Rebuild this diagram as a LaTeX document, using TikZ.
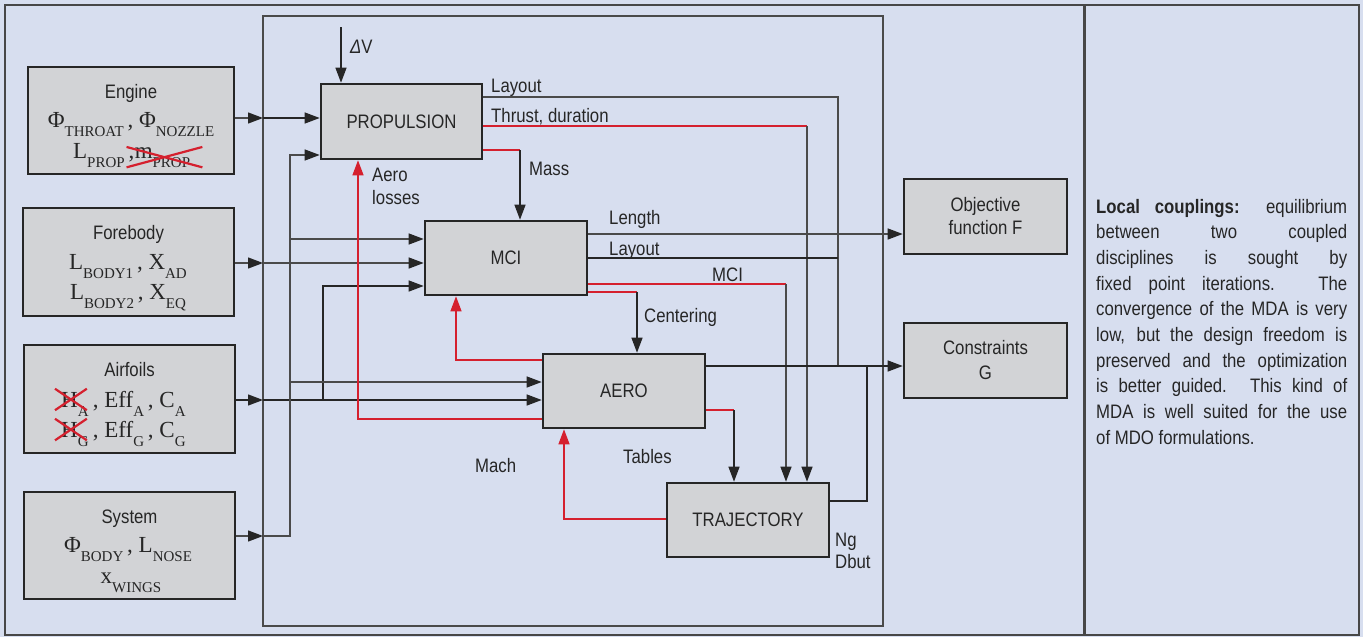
\documentclass[tikz,border=0pt]{standalone}
\usepackage{fontspec}
\setmainfont[FakeStretch=0.86]{Liberation Sans}
\newfontfamily\tms{Liberation Serif}
\usetikzlibrary{arrows.meta}
\definecolor{bg}{HTML}{D7DEEF}
\definecolor{boxfill}{HTML}{D2D3D6}
\definecolor{edge}{HTML}{262626}
\definecolor{ln}{HTML}{4A4A4A}
\definecolor{rd}{HTML}{D5202E}
\definecolor{txt}{HTML}{262626}
\newcommand\vs[2]{#1\raisebox{-9pt}{\fontsize{15}{15}\selectfont #2}}
\begin{document}
\begin{tikzpicture}[x=1pt,y=-1pt,
  every node/.style={font=\fontsize{19.5}{25.7}\selectfont, text=txt},
  box/.style={draw=edge, fill=boxfill, line width=2.6pt, inner sep=0pt},
  frm/.style={draw=ln, line width=1.4pt},
  wire/.style={draw=ln, line width=1.3pt},
  bwire/.style={draw=edge, line width=1.3pt},
  rwire/.style={draw=rd, line width=1.3pt},
  tip/.style={-{Triangle[length=15pt,width=11pt,color=edge]}},
  rtip/.style={-{Triangle[length=15pt,width=11pt,color=rd]}},
  lbl/.style={anchor=base west, inner sep=0pt},
  fml/.style={font=\tms\fontsize{23}{23}\selectfont, inner sep=0pt},
  xout/.style={draw=rd, line width=2.2pt}
]
\fill[bg] (0,0) rectangle (1363,637);
\useasboundingbox (0,0) rectangle (1363,637);
% frames
\draw[draw=edge!85, line width=2.5pt] (5,5) rectangle (1359,635);
\draw[draw=edge!85, line width=3pt] (1084,5) -- (1084,635);
\draw[frm] (263,16) rectangle (883,626);

% boxes
\node[box, minimum width=206pt, minimum height=107pt] (engine) at (131,120.5) {};
\node[box, minimum width=211pt, minimum height=108pt] (forebody) at (128.5,262) {};
\node[box, minimum width=211pt, minimum height=108pt] (airfoils) at (129.5,399) {};
\node[box, minimum width=211pt, minimum height=107pt] (system) at (129.5,545.5) {};
\node[box, minimum width=161pt, minimum height=75pt] (prop) at (401.5,121.5) {PROPULSION};
\node[box, minimum width=162pt, minimum height=74pt] (mci) at (506,258) {MCI};
\node[box, minimum width=162pt, minimum height=74pt] (aero) at (624,391) {AERO};
\node[box, minimum width=162pt, minimum height=74pt] (traj) at (748,520) {TRAJECTORY};
\node[box, minimum width=163pt, minimum height=75pt, align=center, font=\fontsize{19.5}{23}\selectfont] (objf) at (985.5,216.5) {Objective\\function F};
\node[box, minimum width=163pt, minimum height=75pt, align=center, font=\fontsize{19.5}{25}\selectfont] (cons) at (985.5,360.5) {Constraints\\G};

% left box contents
\node[anchor=base, inner sep=0pt] (tEng) at (131,98) {Engine};
\node[fml, anchor=base] (eng1) at (131,127) {\vs{Φ}{THROAT}\,,\ \vs{Φ}{NOZZLE}};
\node[fml, anchor=base west] (lprop) at (73,158) {\vs{L}{PROP}\,,};
\node[fml, anchor=base west] (mprop) at (lprop.base east) {\vs{m}{PROP}};
\draw[xout] ([xshift=-8pt]mprop.north west) -- ([xshift=12pt]mprop.south east);
\draw[xout] ([xshift=-8pt]mprop.south west) -- ([xshift=12pt]mprop.north east);

\node[anchor=base, inner sep=0pt] (tFore) at (128.5,239) {Forebody};
\node[fml, anchor=base] (fb1) at (128,269) {\vs{L}{BODY1}\,,\ \vs{X}{AD}};
\node[fml, anchor=base] (fb2) at (128,299) {\vs{L}{BODY2}\,,\ \vs{X}{EQ}};

\node[anchor=base, inner sep=0pt] (tAir) at (129.5,376) {Airfoils};
\node[fml, anchor=base west] (hA) at (61,407) {\vs{H}{A}};
\node[fml, anchor=base west] (af1) at (hA.base east) {\,,\ \vs{Eff}{A}\,,\ \vs{C}{A}};
\node[fml, anchor=base west] (hG) at (61,437) {\vs{H}{G}};
\node[fml, anchor=base west] (af2) at (hG.base east) {\,,\ \vs{Eff}{G}\,,\ \vs{C}{G}};
\draw[xout] ([xshift=-6pt,yshift=3pt]hA.north west) -- ([xshift=-2pt,yshift=6pt]hA.south east);
\draw[xout] ([xshift=-6pt,yshift=6pt]hA.south west) -- ([xshift=-2pt,yshift=3pt]hA.north east);
\draw[xout] ([xshift=-6pt,yshift=3pt]hG.north west) -- ([xshift=-2pt,yshift=6pt]hG.south east);
\draw[xout] ([xshift=-6pt,yshift=6pt]hG.south west) -- ([xshift=-2pt,yshift=3pt]hG.north east);

\node[anchor=base, inner sep=0pt] (tSys) at (129.5,523) {System};
\node[fml, anchor=base] (sy1) at (128,552) {\vs{Φ}{BODY}\,,\ \vs{L}{NOSE}};
\node[fml, anchor=base] (sy2) at (131,583) {\vs{x}{WINGS}};

% coordinates
\coordinate (fE) at (263,118);
\coordinate (fF) at (263,263);
\coordinate (fA) at (263,400);
\coordinate (fS) at (263,536);
\coordinate (jA) at (323,400);
\coordinate (yA) at (0,286);
\coordinate (jS) at (290,536);
\coordinate (s1) at (290,155);
\coordinate (s2) at (290,239);
\coordinate (s3) at (290,382);
\coordinate (r1) at (358,419);
\coordinate (r2) at (456,360);
\coordinate (r3) at (564,519);
\coordinate (m1) at (520,150);
\coordinate (l1) at (838,97);
\coordinate (l2) at (838,366);
\coordinate (t1) at (807,126);
\coordinate (len) at (600,234);
\coordinate (lay2) at (838,258);
\coordinate (c1) at (786,284);
\coordinate (ce) at (637,292);
\coordinate (ao) at (720,366);
\coordinate (tb) at (734,410);
\coordinate (to) at (867,501);
\coordinate (to2) at (867,366);
\coordinate (dv) at (341,27);

% inputs
\draw[wire,tip] (engine.east |- fE) -- (fE);
\draw[bwire,tip] (fE) -- (prop.west |- fE);
\draw[wire,tip] (forebody.east |- fF) -- (fF);
\draw[wire,tip] (fF) -- (mci.west |- fF);
\draw[bwire,tip] (airfoils.east |- fA) -- (fA);
\draw[bwire,tip] (fA) -- (aero.west |- fA);
\draw[bwire,tip] (jA) |- (mci.west |- yA);
\draw[wire,tip] (system.east |- fS) -- (fS);
\draw[wire,tip] (fS) -- (jS) -- (s1) -- (prop.west |- s1);
\draw[wire,tip] (s2) -- (mci.west |- s2);
\draw[wire,tip] (s3) -- (aero.west |- s3);
\draw[bwire,tip] (dv) -- (dv |- prop.north);

% red feedback
\draw[rwire,rtip] (aero.west |- r1) -- (r1) -- (r1 |- prop.south);
\draw[rwire,rtip] (aero.west |- r2) -- (r2) -- (r2 |- mci.south);
\draw[rwire,rtip] (traj.west |- r3) -- (r3) -- (r3 |- aero.south);

% propulsion outputs
\draw[rwire] (prop.east |- m1) -- (m1);
\draw[bwire,tip] (m1) -- (m1 |- mci.north);
\draw[wire] (prop.east |- l1) -- (l1) -- (l2);
\draw[rwire] (prop.east |- t1) -- (t1);
\draw[wire,tip] (t1) -- (t1 |- traj.north);

% MCI outputs
\draw[wire,tip] (mci.east |- len) -- (objf.west |- len);
\draw[bwire] (mci.east |- lay2) -- (lay2);
\draw[rwire] (mci.east |- c1) -- (c1);
\draw[wire,tip] (c1) -- (c1 |- traj.north);
\draw[rwire] (mci.east |- ce) -- (ce);
\draw[bwire,tip] (ce) -- (ce |- aero.north);

% AERO outputs
\draw[bwire,tip] (aero.east |- ao) -- (cons.west |- ao);
\draw[rwire] (aero.east |- tb) -- (tb);
\draw[bwire,tip] (tb) -- (tb |- traj.north);

% TRAJECTORY output
\draw[bwire] (traj.east |- to) -- (to) -- (to2);

% labels
\node[lbl] (dV) at (350,53) {\textit{Δ}V};
\node[lbl] (lLay1) at (491,92) {Layout};
\node[lbl] (lThr) at (491,122) {Thrust, duration};
\node[lbl] (lMass) at (529,175) {Mass};
\node[lbl] (lAero) at (372,181) {Aero};
\node[lbl] (lLoss) at (372,204) {losses};
\node[lbl] (lLen) at (609,224) {Length};
\node[lbl] (lLay2) at (609,255) {Layout};
\node[lbl] (lMCI) at (712,281) {MCI};
\node[lbl] (lCen) at (644,322) {Centering};
\node[lbl] (lTab) at (623,463) {Tables};
\node[lbl] (lMach) at (475,472) {Mach};
\node[lbl] (lNg) at (835,546) {Ng};
\node[lbl] (lDbut) at (835,568) {Dbut};

% paragraph
\node[anchor=base west, inner sep=0pt] (para) at (1096,213) {\parbox[t]{251pt}{\fontsize{19.5}{25.7}\selectfont\hyphenpenalty=10000
\textbf{Local couplings:} equilibrium\linebreak
between two coupled\linebreak
disciplines is sought by\linebreak
fixed point iterations. The\linebreak
convergence of the MDA is very\linebreak
low, but the design freedom is\linebreak
preserved and the optimization\linebreak
is better guided. This kind of\linebreak
MDA is well suited for the use\linebreak
of MDO formulations.}};
\end{tikzpicture}
\end{document}
